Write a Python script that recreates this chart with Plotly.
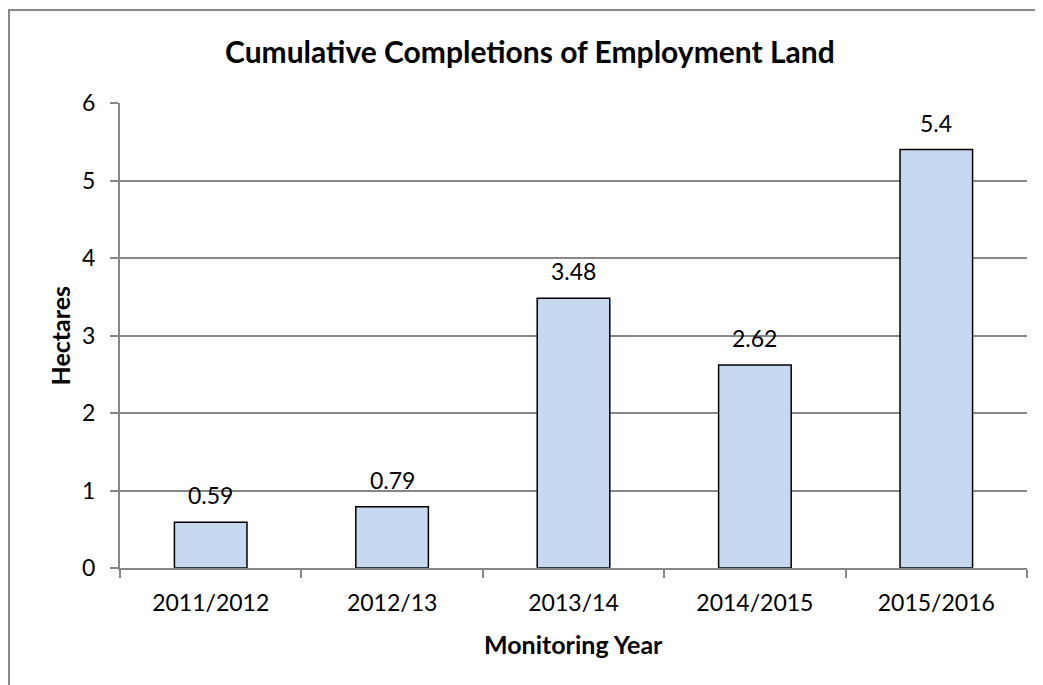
import plotly.graph_objects as go

categories = ["2011/2012", "2012/13", "2013/14", "2014/2015", "2015/2016"]
hectares = [0.59, 0.79, 3.48, 2.62, 5.4]
value_labels = ["0.59", "0.79", "3.48", "2.62", "5.4"]
y_ticks = [0, 1, 2, 3, 4, 5, 6]

FONT = "Lato"
GRID = "#878787"

# page body has an 8px margin; plot area target (page px): x 120..1027, y 103..568
PW, PH = 907, 465

fig = go.Figure()
fig.add_trace(go.Bar(
    x=categories, y=hectares, width=0.4,
    marker=dict(color="#C6D9F1", line=dict(color="#000000", width=1.5)),
    hoverinfo="x+y",
))

annotations = []
for c, v, t in zip(categories, hectares, value_labels):
    annotations.append(dict(x=c, y=v, xref="x", yref="y", text=t, showarrow=False,
                            yanchor="middle", yshift=27,
                            font=dict(family=FONT, size=23, color="#000000")))
annotations.append(dict(text="<b>Hectares</b>", xref="paper", yref="paper",
                        x=(59 - 120) / PW, y=0.5, textangle=-90, showarrow=False,
                        xanchor="center", yanchor="middle",
                        font=dict(family=FONT, size=25, color="#000000")))
annotations.append(dict(text="<b>Monitoring Year</b>", xref="paper", yref="paper",
                        x=0.5, y=(568 - 644) / PH, showarrow=False,
                        xanchor="center", yanchor="middle",
                        font=dict(family=FONT, size=25, color="#000000")))
annotations.append(dict(text="<b>Cumulative Completions of Employment Land</b>",
                        xref="paper", yref="paper",
                        x=(530 - 120) / PW, y=(568 - 51) / PH, showarrow=False,
                        xanchor="center", yanchor="middle",
                        font=dict(family=FONT, size=30, color="#000000")))

fig.update_layout(
    width=1035, height=677,
    margin=dict(l=112, r=16, t=95, b=117),
    paper_bgcolor="white", plot_bgcolor="white",
    showlegend=False,
    bargap=0.6,
    annotations=annotations,
    shapes=[dict(type="rect", xref="paper", yref="paper",
                 x0=(9 - 120) / PW, x1=(1080 - 120) / PW,
                 y0=(568 - 720) / PH, y1=(568 - 10) / PH,
                 line=dict(color=GRID, width=2), fillcolor="rgba(0,0,0,0)",
                 layer="below")],
    font=dict(family=FONT, size=23, color="#000000"),
)
fig.update_xaxes(
    type="category", showline=True, linecolor=GRID, linewidth=2,
    ticks="outside", tickson="boundaries", ticklen=8, tickcolor=GRID, tickwidth=2,
    showgrid=False, ticklabelstandoff=13,
    tickfont=dict(family=FONT, size=23, color="#000000"),
)
fig.update_yaxes(
    range=[0, 6], tickvals=y_ticks, showline=True, linecolor=GRID, linewidth=2,
    ticks="outside", ticklen=8, tickcolor=GRID, tickwidth=2,
    showgrid=True, gridcolor=GRID, gridwidth=2, zeroline=False,
    ticklabelstandoff=10,
    tickfont=dict(family=FONT, size=23, color="#000000"),
)

fig.write_html("out.html")
